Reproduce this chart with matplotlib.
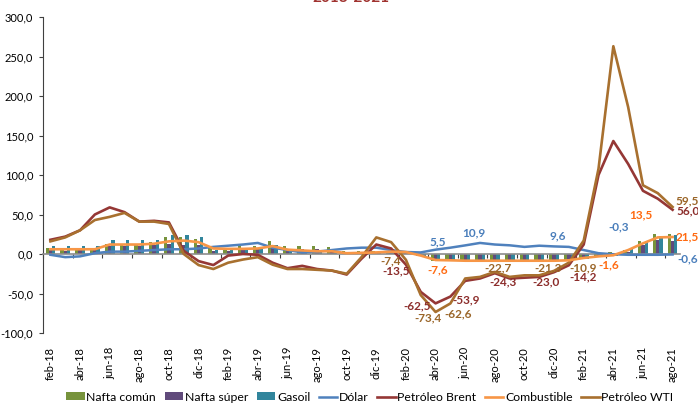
import numpy as np
import matplotlib.pyplot as plt
from matplotlib.ticker import FuncFormatter, MultipleLocator

plt.rcParams['font.family'] = ['Lato', 'DejaVu Sans']

meses = ['ene', 'feb', 'mar', 'abr', 'may', 'jun', 'jul', 'ago', 'sep', 'oct', 'nov', 'dic']
periodos = []
for anio in ['18', '19', '20', '21']:
    for m in meses:
        periodos.append(m + '-' + anio)
periodos = periodos[1:44]  # feb-18 .. ago-21

# variaciones interanuales (%)
nafta_comun = [8, 6, 6, 6, 13, 13, 13, 15, 21, 21, 19, 7, 7, 10, 10, 17, 10, 10, 10, 9, 4, 4, 4, 3, 2,
               -2, -9, -9, -9, -9, -9, -9, -9, -9, -9, -9, -6, -2, 2, 5, 17, 25, 25]
nafta_super = [5, 4, 5, 5, 10, 10, 10, 11, 13, 12, 11, 4, 4, 5, 6, 11, 6, 6, 6, 5, 2, 2, 2, 2, 1,
               -2, -7, -8, -8, -8, -8, -8, -8, -8, -8, -8, -5, -2, -1, 3, 11, 18, 17]
gasoil = [10, 10, 10, 10, 18, 18, 18, 18, 24, 24, 21, 5, 5, 5, 6, 11, 6, 5, 4, 4, 2, 2, 3, 3, 2,
          -3, -8, -9, -9, -9, -9, -9, -9, -9, -9, -9, -6, -3, -2, 6, 16, 23, 24]
dolar = [-1, -4, -3, 1, 3, 3, 4, 5, 6, 6, 7, 9, 10.5, 12, 14, 8, 5, 2, 3, 5, 7, 8, 8, 5, 2.5,
         2, 5.5, 8, 10.9, 14, 12, 11, 9, 10.5, 9.6, 9, 5, 1, -0.3, -1, -1, -1, -0.6]
brent = [18, 22, 30, 50, 59, 53, 41, 42, 40, 4, -9, -14, -2, 0, -1, -11, -18, -15, -19, -21, -26, -6, 12, 7, -13.5,
         -48, -62.5, -53.9, -34, -31, -24.3, -31, -30, -29, -23.0, -14.2, 12, 100, 143, 114, 80, 70, 56.0]
combustible = [6, 6, 6, 6, 12, 12, 12, 13, 16, 17, 15, 7, 6.5, 6.5, 7, 10, 5.5, 4.5, 3.5, 3.5, 1, 1.5, 2, 3, 2.5,
               -2, -7.6, -8, -8.5, -8.5, -8.5, -8.5, -8.5, -8.5, -8.5, -8, -5, -3, -1.6, 5, 13.5, 21, 21.5]
wti = [16, 21, 30, 43, 47, 52, 41, 41, 38, 0, -14, -19, -11, -7, -4, -13.5, -19, -19, -20, -21, -25, -4, 21, 15, -7.4,
       -52, -73.4, -62.6, -31, -29, -22.7, -29, -27, -27, -21.3, -10.9, 17, 108, 263, 186, 87, 77, 59.5]

# etiquetas de datos: (serie, periodo, dx, dy) en pixeles
etiquetas = [
    ('dolar', 'abr-20', 2, 8), ('dolar', 'jun-20', 9, 13), ('dolar', 'dic-20', 4, 11),
    ('dolar', 'abr-21', 5, 27), ('dolar', 'ago-21', 15, -4),
    ('combustible', 'abr-20', 2, -10), ('combustible', 'abr-21', -5, -10),
    ('combustible', 'jun-21', -2, 28), ('combustible', 'ago-21', 15, 0),
    ('brent', 'feb-20', -10, -6), ('wti', 'feb-20', -15, -1),
    ('brent', 'abr-20', -18, -2), ('wti', 'abr-20', -8, -6),
    ('brent', 'may-20', 16, -3), ('wti', 'may-20', 8, -10),
    ('wti', 'ago-20', 3, 4), ('brent', 'ago-20', 8, -9),
    ('wti', 'dic-20', -6, 3), ('brent', 'dic-20', -8, -10),
    ('wti', 'ene-21', 14, -5), ('brent', 'ene-21', 14, -12),
    ('wti', 'ago-21', 15, 6), ('brent', 'ago-21', 15, -1),
]

col_comun = '#77933C'
col_super = '#604A7B'
col_gasoil = '#31859C'
col_dolar = '#4F81BD'
col_brent = '#953735'
col_comb = '#F79646'
col_wti = '#A8702F'

fig = plt.figure(figsize=(6.98, 4.09), dpi=100)
ax = fig.add_axes([43 / 698, 1 - 333 / 409, 637 / 698, 316 / 409])

x = np.arange(len(periodos))
w = 0.22
b1 = ax.bar(x - w, nafta_comun, w, color=col_comun, label='Nafta común', zorder=2)
b2 = ax.bar(x, nafta_super, w, color=col_super, label='Nafta súper', zorder=2)
b3 = ax.bar(x + w, gasoil, w, color=col_gasoil, label='Gasoil', zorder=2)
l1, = ax.plot(x, dolar, color=col_dolar, lw=1.8, label='Dólar', zorder=3)
l2, = ax.plot(x, brent, color=col_brent, lw=1.9, label='Petróleo Brent', zorder=3)
l3, = ax.plot(x, combustible, color=col_comb, lw=1.9, label='Combustible', zorder=4)
l4, = ax.plot(x, wti, color=col_wti, lw=1.9, label='Petróleo WTI', zorder=3)

series = {'dolar': dolar, 'brent': brent, 'combustible': combustible, 'wti': wti}
colores_et = {'dolar': '#4A7EBB', 'brent': '#8C2D2B', 'combustible': '#FF6A10', 'wti': '#9A6528'}
for nombre, per, dx, dy in etiquetas:
    i = periodos.index(per)
    v = series[nombre][i]
    ax.annotate(f'{v:.1f}'.replace('.', ','), (i, v), xytext=(dx, dy), textcoords='offset pixels',
                ha='center', va='center', fontsize=8.5, fontweight='bold',
                color=colores_et[nombre], zorder=5, annotation_clip=False)

ax.set_xlim(-0.5, len(periodos) - 0.5)
ax.set_ylim(-100, 300)
ax.yaxis.set_major_locator(MultipleLocator(50))
ax.yaxis.set_major_formatter(FuncFormatter(lambda v, p: f'{v:.1f}'.replace('.', ',')))
ax.tick_params(axis='y', labelsize=8, length=3, width=0.8, color='#404040', pad=4)

for s in ['top', 'right']:
    ax.spines[s].set_visible(False)
ax.spines['left'].set_color('#404040')
ax.spines['bottom'].set_position(('data', 0))
ax.spines['bottom'].set_color('#8C8C8C')
ax.spines['bottom'].set_linewidth(1.2)
ax.set_xticks(np.arange(-0.5, len(periodos), 2))
ax.tick_params(axis='x', labelbottom=False, length=3, width=0.8, color='#404040')

sec = ax.secondary_xaxis(0)
sec.set_xticks(x[::2])
sec.set_xticklabels(periodos[::2], rotation=90, fontsize=8)
sec.tick_params(length=0, pad=10)
sec.spines['bottom'].set_visible(False)

fig.legend(handles=[b1, b2, b3, l1, l2, l3, l4], loc='center', bbox_to_anchor=(0.53, 0.029),
           ncol=7, frameon=False, fontsize=8.8, handlelength=1.5, handleheight=0.6,
           handletextpad=0.15, columnspacing=0.7)

fig.text(0.503, 1 - 1.5 / 409, '2018-2021', ha='center', va='baseline', fontsize=11,
         fontweight='bold', color='#A0322F')

fig.savefig('out.png', dpi=100)
